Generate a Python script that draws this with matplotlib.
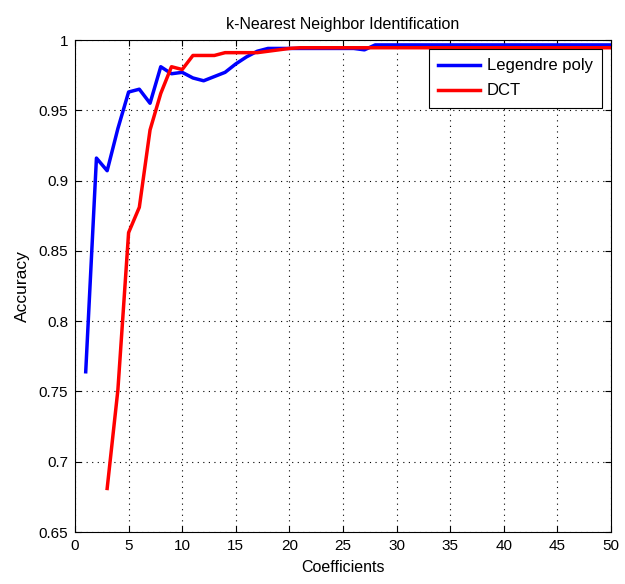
import numpy as np
import matplotlib
matplotlib.use('Agg')
import matplotlib.pyplot as plt

# values
coeffs = list(range(1, 51))
legendre = [0.764, 0.916, 0.907, 0.937, 0.963, 0.965, 0.955, 0.981, 0.976, 0.977,
            0.973, 0.971, 0.974, 0.977, 0.983, 0.988, 0.992, 0.994, 0.994, 0.994,
            0.994, 0.994, 0.994, 0.994, 0.994, 0.994, 0.993] + [0.9965] * 23
dct_x = list(range(3, 51))
dct = [0.681, 0.751, 0.863, 0.881, 0.936, 0.962, 0.981, 0.979, 0.989, 0.989,
       0.989, 0.991, 0.991, 0.991, 0.991, 0.992, 0.993, 0.994] + [0.9945] * 30

xticks = list(range(0, 51, 5))
yticks = [0.65, 0.7, 0.75, 0.8, 0.85, 0.9, 0.95, 1.0]
ytick_labels = ['0.65', '0.7', '0.75', '0.8', '0.85', '0.9', '0.95', '1']

plt.rcParams['font.family'] = ['Liberation Sans Narrow', 'Liberation Sans', 'DejaVu Sans']

fig = plt.figure(figsize=(6.25, 5.84), dpi=100)
ax = fig.add_axes([0.12, 0.089, 0.8576, 0.8425])

ax.plot(coeffs, legendre, color='#0000ff', lw=2.5, label='Legendre poly')
ax.plot(dct_x, dct, color='#ff0000', lw=2.5, label='DCT')

ax.set_xlim(0, 50)
ax.set_ylim(0.65, 1.0)
ax.set_xticks(xticks)
ax.set_yticks(yticks)
ax.set_yticklabels(ytick_labels)
ax.tick_params(direction='in', length=4, labelsize=11, pad=5, top=True, right=True)
ax.grid(True, color='black', linestyle=(0, (1, 4)), linewidth=0.8)
for s in ax.spines.values():
    s.set_linewidth(0.8)

ax.set_title('k-Nearest Neighbor Identification', fontsize=11.5, pad=8)
ax.set_xlabel('Coefficients', fontsize=11.5, labelpad=5)
ax.set_ylabel('Accuracy', fontsize=12.5, labelpad=6)

leg = ax.legend(loc='upper right', fontsize=12, fancybox=False, framealpha=1,
                edgecolor='black', handlelength=2.5, handletextpad=0.4,
                borderpad=0.55, labelspacing=0.6, borderaxespad=0.55)
leg.get_frame().set_linewidth(0.8)

fig.savefig('out.png', dpi=100)
